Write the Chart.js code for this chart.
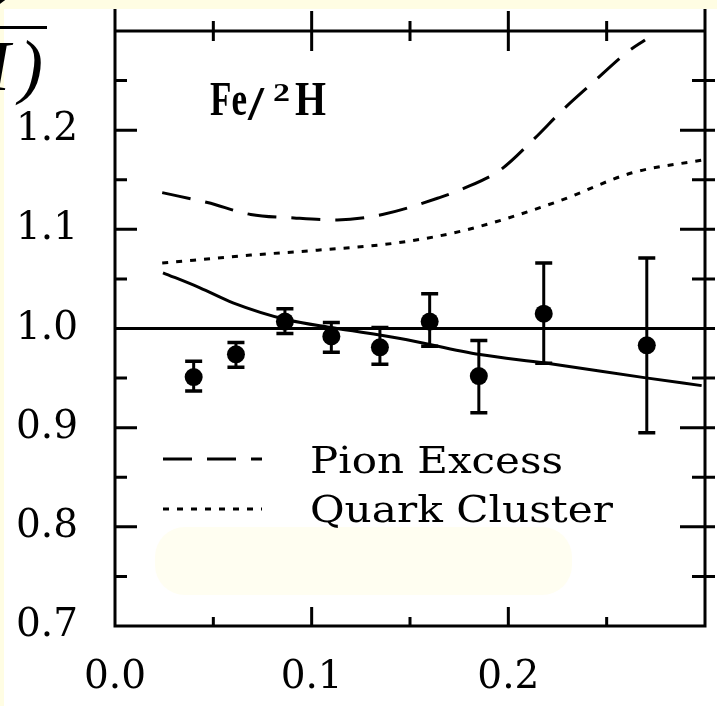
<!DOCTYPE html>
<html>
<head>
<meta charset="utf-8">
<script src="https://cdn.jsdelivr.net/npm/chart.js@4.4.1/dist/chart.umd.min.js"></script>
<style>
  html, body { margin: 0; padding: 0; background: #fffde3; }
  #wrap { width: 717px; height: 706px; }
</style>
</head>
<body>
<div id="wrap"><canvas id="ratioChart" width="717" height="706"></canvas></div>
<script>
// measured ratio Fe/2H with errors
const ptX   = [0.040, 0.0615, 0.0864, 0.110, 0.1347, 0.160, 0.185, 0.218, 0.2704];
const ptY   = [0.951, 0.974, 1.007, 0.992, 0.981, 1.007, 0.952, 1.015, 0.983];
const errHi = [0.967, 0.986, 1.020, 1.006, 1.001, 1.035, 0.988, 1.066, 1.071];
const errLo = [0.937, 0.961, 0.995, 0.976, 0.964, 0.982, 0.915, 0.965, 0.895];

// model curves
const pionX  = [0.024, 0.047, 0.069, 0.091, 0.113, 0.136, 0.165, 0.177, 0.196, 0.2125, 0.228, 0.243, 0.260, 0.2695];
const pionY  = [1.137, 1.127, 1.115, 1.1115, 1.1095, 1.115, 1.132, 1.141, 1.160, 1.190, 1.221, 1.248, 1.278, 1.291];
const quarkX = [0.024, 0.069, 0.103, 0.144, 0.179, 0.225, 0.263, 0.299];
const quarkY = [1.066, 1.074, 1.079, 1.0865, 1.0996, 1.128, 1.157, 1.170];
const solidX = [0.0244, 0.0432, 0.060, 0.0875, 0.1108, 0.145, 0.1856, 0.218, 0.270, 0.2983];
const solidY = [1.0562, 1.041, 1.0259, 1.0088, 1.0007, 0.990, 0.9737, 0.9654, 0.9502, 0.9424];
const unityX = [0, 0.3];
const unityY = [1.0, 1.0];

// axis ticks
const xMajorTicks = [0.1, 0.2];
const xMinorTicks = [0.05, 0.15, 0.25];
const yMajorTicks = [0.8, 0.9, 1.0, 1.1, 1.2];
const yMinorTicks = [0.75, 0.85, 0.95, 1.05, 1.15, 1.25];

const legendLabels = ['Pion Excess', 'Quark Cluster'];

const pts = (xs, ys) => xs.map((x, i) => ({ x: x, y: ys[i] }));

// stretch text horizontally to a given width
function drawFit(c, text, x, y, w, font) {
  c.font = font;
  const m = c.measureText(text).width;
  c.save();
  c.translate(x, y);
  c.scale(w / m, 1);
  c.fillText(text, 0, 0);
  c.restore();
}

const paper = {
  id: 'paper',
  beforeDraw(chart) {
    const c = chart.ctx;
    c.save();
    c.fillStyle = '#fffde3';
    c.fillRect(0, 0, chart.width, chart.height);
    c.fillStyle = '#ffffff';
    c.fillRect(4, 9, chart.width - 4, chart.height - 9);
    // pale panel under the legend
    c.fillStyle = '#fffef1';
    c.beginPath();
    c.roundRect(155, 527, 417, 68, 30);
    c.fill();
    // cut-off ratio title on the left
    c.fillStyle = '#000';
    c.textAlign = 'right';
    c.textBaseline = 'alphabetic';
    c.font = 'italic 72px "Liberation Serif"';
    c.fillText(')', 43, 90);
    c.fillText('\u03c3(\u00b2H', 10, 90);
    c.fillText('\u03c3(Fe)', 21, -8);
    c.fillRect(0, 26, 47, 3);
    c.restore();
  }
};

const errorBars = {
  id: 'errorBars',
  afterDatasetsDraw(chart) {
    const c = chart.ctx, xs = chart.scales.x, ys = chart.scales.y;
    c.save();
    c.strokeStyle = '#000';
    c.lineWidth = 3;
    ptX.forEach((v, i) => {
      const x = xs.getPixelForValue(v);
      const y1 = ys.getPixelForValue(errHi[i]);
      const y2 = ys.getPixelForValue(errLo[i]);
      c.beginPath();
      c.moveTo(x, y1); c.lineTo(x, y2);
      c.stroke();
      c.lineWidth = 3.5;
      c.beginPath();
      c.moveTo(x - 8.5, y1); c.lineTo(x + 8.5, y1);
      c.moveTo(x - 8.5, y2); c.lineTo(x + 8.5, y2);
      c.stroke();
      c.lineWidth = 3;
    });
    c.restore();
  }
};

const frame = {
  id: 'frame',
  afterDraw(chart) {
    const c = chart.ctx, xs = chart.scales.x, ys = chart.scales.y;
    const { left, right, top, bottom } = chart.chartArea;
    c.save();
    c.strokeStyle = '#000';
    c.lineWidth = 3;
    c.beginPath();
    c.moveTo(left, 9); c.lineTo(left, bottom); c.lineTo(right, bottom); c.lineTo(right, 9);
    c.moveTo(left, top); c.lineTo(right, top);
    // x ticks, bottom inward, top crossing
    xMajorTicks.forEach(v => {
      const x = xs.getPixelForValue(v);
      c.moveTo(x, bottom); c.lineTo(x, bottom - 19);
      c.moveTo(x, top - 20); c.lineTo(x, top + 20);
    });
    xMinorTicks.forEach(v => {
      const x = xs.getPixelForValue(v);
      c.moveTo(x, bottom); c.lineTo(x, bottom - 9);
      c.moveTo(x, top - 10); c.lineTo(x, top + 10);
    });
    // y ticks, left inward, right crossing
    yMajorTicks.forEach(v => {
      const y = ys.getPixelForValue(v);
      c.moveTo(left, y); c.lineTo(left + 22, y);
      c.moveTo(right - 25, y); c.lineTo(right + 10, y);
    });
    yMinorTicks.forEach(v => {
      const y = ys.getPixelForValue(v);
      c.moveTo(left, y); c.lineTo(left + 12, y);
      c.moveTo(right - 13, y); c.lineTo(right + 10, y);
    });
    c.stroke();

    // Fe/2H tag
    c.fillStyle = '#000';
    c.textAlign = 'left';
    c.textBaseline = 'alphabetic';
    drawFit(c, 'Fe', 210, 115, 37, 'bold 48px "Liberation Serif"');
    drawFit(c, '/', 248, 120, 16, 'bold 48px "Liberation Serif"');
    drawFit(c, '2', 273, 101, 17, 'bold 26px "Liberation Serif"');
    drawFit(c, 'H', 295, 115, 31, 'bold 48px "Liberation Serif"');

    // legend
    const ds = chart.data.datasets;
    [[ds[1], 459, 473, 253], [ds[2], 509, 522, 303]].forEach(([d, ly, base, w], i) => {
      c.beginPath();
      c.lineWidth = d.borderWidth;
      c.setLineDash(d.borderDash);
      c.moveTo(163, ly); c.lineTo(262, ly);
      c.stroke();
      c.setLineDash([]);
      drawFit(c, legendLabels[i], 310, base, w, '38px "DejaVu Serif"');
    });
    c.restore();
  }
};

const tickFont = { family: '"DejaVu Serif"', size: 39 };

new Chart(document.getElementById('ratioChart'), {
  type: 'scatter',
  data: {
    datasets: [
      { data: pts(solidX, solidY), showLine: true, borderColor: '#000', borderWidth: 3,
        pointRadius: 0, cubicInterpolationMode: 'monotone' },
      { data: pts(pionX, pionY), showLine: true, borderColor: '#000', borderWidth: 3,
        borderDash: [29, 15], pointRadius: 0, cubicInterpolationMode: 'monotone' },
      { data: pts(quarkX, quarkY), showLine: true, borderColor: '#000', borderWidth: 3,
        borderDash: [6, 8], pointRadius: 0, cubicInterpolationMode: 'monotone' },
      { data: pts(unityX, unityY), showLine: true, borderColor: '#000', borderWidth: 3, pointRadius: 0 },
      { data: pts(ptX, ptY), showLine: false, pointRadius: 9, pointBackgroundColor: '#000',
        pointBorderColor: '#000', pointBorderWidth: 0 }
    ]
  },
  options: {
    responsive: false,
    animation: false,
    devicePixelRatio: 1,
    layout: { padding: { left: 0, right: 12, top: 31, bottom: 0 } },
    plugins: { legend: { display: false }, tooltip: { enabled: false } },
    scales: {
      x: {
        type: 'linear', min: 0, max: 0.3,
        grid: { display: false, drawTicks: false },
        border: { display: false },
        ticks: {
          stepSize: 0.1, color: '#000', font: tickFont, padding: 28,
          callback: v => Math.abs(v - 0.3) < 1e-6 ? '' : v.toFixed(1)
        },
        afterFit: s => { s.height = 80; s.paddingLeft = 0; s.paddingRight = 0; }
      },
      y: {
        type: 'linear', min: 0.7, max: 1.3,
        grid: { display: false, drawTicks: false },
        border: { display: false },
        ticks: {
          stepSize: 0.1, color: '#000', font: tickFont, padding: 37,
          callback: v => Math.abs(v - 1.3) < 1e-6 ? '' : v.toFixed(1)
        },
        afterFit: s => { s.width = 115; s.paddingTop = 0; s.paddingBottom = 0; }
      }
    }
  },
  plugins: [paper, errorBars, frame]
});
</script>
</body>
</html>
